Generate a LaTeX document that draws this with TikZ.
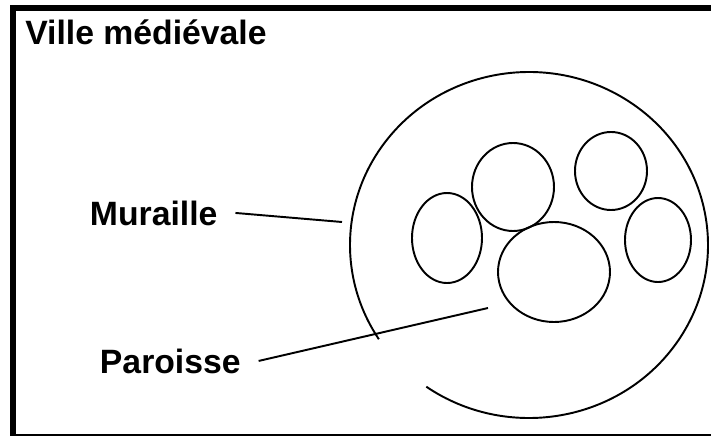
\documentclass[tikz,border=0pt]{standalone}
\usepackage{fontspec}
\setmainfont{Liberation Sans}
\begin{document}
\begin{tikzpicture}[x=0.02cm,y=-0.02cm,font=\fontsize{19.2}{23}\selectfont\bfseries]
\tikzstyle{ring}=[draw, line width=1.1pt]
\tikzstyle{tag}=[anchor=base west, inner sep=0pt, outer xsep=0.36cm]
\useasboundingbox (0,0) rectangle (711,436);
% frame
\fill (10,5) rectangle (711,10.5);
\fill (10,5) rectangle (15.5,436);
\fill (10,433.5) rectangle (711,435.5);
\node[anchor=base west, inner sep=0pt] (title) at (25,45) {Ville médiévale};
% town wall, open at the lower left
\draw[ring] (529,245) ++(125:179 and 173) arc[start angle=125, end angle=-213, x radius=179, y radius=173];
% parishes
\foreach \x/\y/\a/\b in {447/238/35/45,513/187/41/44,611/171/36/39,658/240/33/42,554/272/56/50}
\draw[ring] (\x,\y) ellipse [x radius=\a, y radius=\b];
\node[tag] (muraille) at (72,225) {Muraille};
\node[tag] (paroisse) at (82,373) {Paroisse};
\coordinate (wall) at (342,222);
\coordinate (parish) at (488,308);
\draw[line width=1.1pt] (muraille.east) -- (wall);
\draw[line width=1.1pt] (paroisse.east) -- (parish);
\end{tikzpicture}
\end{document}
